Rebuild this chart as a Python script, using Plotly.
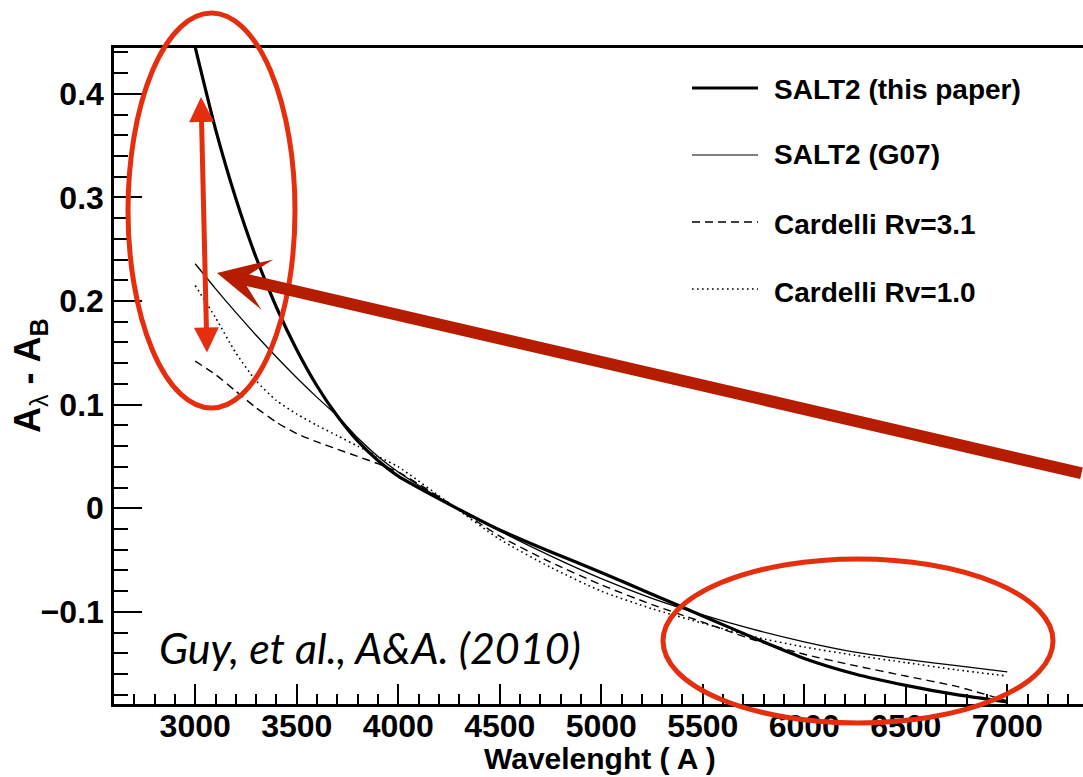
import plotly.graph_objects as go

# ---- data ----
wavelength = [3000, 3100, 3200, 3300, 3400, 3500, 3600, 3700, 3800, 3900, 4000,
              4250, 4500, 4750, 5000, 5250, 5500, 5750, 6000, 6250, 6500, 6750, 7000]
salt2_this_paper = [0.445, 0.366, 0.299, 0.242, 0.194, 0.153, 0.118, 0.089, 0.065, 0.046, 0.031,
                    0.004, -0.021, -0.042, -0.062, -0.083, -0.104, -0.125, -0.145, -0.160, -0.171, -0.180, -0.187]
salt2_g07 = [0.236, 0.212, 0.189, 0.167, 0.146, 0.126, 0.107, 0.089, 0.068, 0.050, 0.035,
             0.004, -0.022, -0.046, -0.068, -0.087, -0.103, -0.117, -0.129, -0.139, -0.146, -0.152, -0.158]
cardelli_rv31 = [0.142, 0.129, 0.113, 0.097, 0.083, 0.072, 0.064, 0.057, 0.050, 0.043, 0.035,
                 0.005, -0.027, -0.052, -0.074, -0.093, -0.110, -0.127, -0.141, -0.152, -0.162, -0.172, -0.186]
cardelli_rv10 = [0.215, 0.184, 0.150, 0.123, 0.104, 0.091, 0.080, 0.070, 0.060, 0.050, 0.040,
                 0.005, -0.030, -0.057, -0.080, -0.097, -0.111, -0.124, -0.134, -0.142, -0.149, -0.156, -0.162]

series_names = ["SALT2 (this paper)", "SALT2 (G07)", "Cardelli Rv=3.1", "Cardelli Rv=1.0"]
series_values = [salt2_this_paper, salt2_g07, cardelli_rv31, cardelli_rv10]
series_styles = [dict(width=3.2, dash="solid"), dict(width=1.3, dash="solid"),
                 dict(width=1.4, dash="8px,5px"), dict(width=1.6, dash="1.6px,3.4px")]

W, H = 1083, 777
ML, MR, MT, MB = 114, 0, 48, 73
PW, PH = W - ML - MR, H - MT - MB


def px(x):
    return (x - ML) / PW


def py(y):
    return (H - MB - y) / PH


fig = go.Figure()
for name, vals, st in zip(series_names, series_values, series_styles):
    fig.add_trace(go.Scatter(x=wavelength, y=vals, mode="lines", name=name,
                             line=dict(color="black", width=st["width"], dash=st["dash"],
                                       shape="spline", smoothing=0.6),
                             showlegend=False, cliponaxis=True))

tickfont = dict(family="Liberation Sans", size=32, color="black", weight="bold")
fig.update_layout(
    width=W, height=H,
    margin=dict(l=ML, r=MR, t=MT, b=MB, pad=0),
    paper_bgcolor="white", plot_bgcolor="white",
    xaxis=dict(range=[2600, 7373], tickmode="linear", tick0=0, dtick=500,
               ticks="inside", ticklen=20, tickwidth=1.5, tickcolor="black",
               minor=dict(dtick=100, tick0=0, ticks="inside", ticklen=10, tickwidth=1.5, tickcolor="black"),
               showline=True, linecolor="black", linewidth=2.5, mirror=True,
               showgrid=False, zeroline=False, tickfont=tickfont, ticklabelstandoff=-8),
    yaxis=dict(range=[-0.189, 0.4443], tickmode="linear", tick0=0, dtick=0.1,
               ticks="inside", ticklen=28, tickwidth=1.5, tickcolor="black",
               minor=dict(dtick=0.02, tick0=0, ticks="inside", ticklen=14, tickwidth=1.5, tickcolor="black"),
               showline=True, linecolor="black", linewidth=2.5, mirror=False,
               showgrid=False, zeroline=False, tickfont=tickfont, ticklabelstandoff=1),
    showlegend=False,
)

# ---- legend drawn manually ----
leg_line_y = [88, 155, 222, 289]
leg_text_y = [89, 154, 225, 292]
for name, st, ly, ty in zip(series_names, series_styles, leg_line_y, leg_text_y):
    fig.add_shape(type="line", xref="paper", yref="paper", x0=px(692), x1=px(758), y0=py(ly), y1=py(ly),
                  line=dict(color="black", width=st["width"] * 0.9, dash=st["dash"]))
    fig.add_annotation(xref="paper", yref="paper", x=px(772), y=py(ty), text=name, showarrow=False,
                       xanchor="left", yanchor="middle",
                       font=dict(family="Liberation Sans", size=28, color="black", weight="bold"))

# ---- axis titles ----
fig.add_annotation(xref="paper", yref="paper", x=px(600), y=py(758), text="<b>Wavelenght ( A )</b>",
                   showarrow=False, xanchor="center", yanchor="middle",
                   font=dict(family="Liberation Sans", size=30, color="black"))
fig.add_annotation(xref="paper", yref="paper", x=px(30), y=py(376),
                   text="<b>A</b><sub>λ</sub><b> - A<sub>B</sub></b>", textangle=-90,
                   showarrow=False, xanchor="center", yanchor="middle",
                   font=dict(family="Liberation Sans", size=36, color="black"))

# ---- citation text ----
fig.add_annotation(xref="paper", yref="paper", x=px(370), y=py(647), text="<i>Guy, et al., A&A. (2010)</i>",
                   showarrow=False, xanchor="center", yanchor="middle",
                   font=dict(family="Lato", size=43, color="black"))

# ---- red highlights ----
RED = "#E52E0E"
DARKRED = "#B51C00"
fig.add_shape(type="circle", xref="paper", yref="paper", x0=px(128), x1=px(295), y0=py(408), y1=py(13),
              line=dict(color=RED, width=5))
fig.add_shape(type="circle", xref="paper", yref="paper", x0=px(663), x1=px(1053), y0=py(723), y1=py(559),
              line=dict(color=RED, width=5))
# double arrow
fig.add_annotation(xref="paper", yref="paper", x=px(201), y=py(97), ax=6, ay=257, text="",
                   showarrow=True, arrowhead=2, startarrowhead=2, arrowside="end+start",
                   arrowwidth=5, arrowsize=1.0, startarrowsize=1.0, arrowcolor=RED)
# big arrow
fig.add_annotation(xref="paper", yref="paper", x=px(217), y=py(273), ax=873, ay=200.6, text="",
                   showarrow=True, arrowhead=3, arrowwidth=12, arrowsize=0.72, arrowcolor=DARKRED)

fig.write_html("out.html")
